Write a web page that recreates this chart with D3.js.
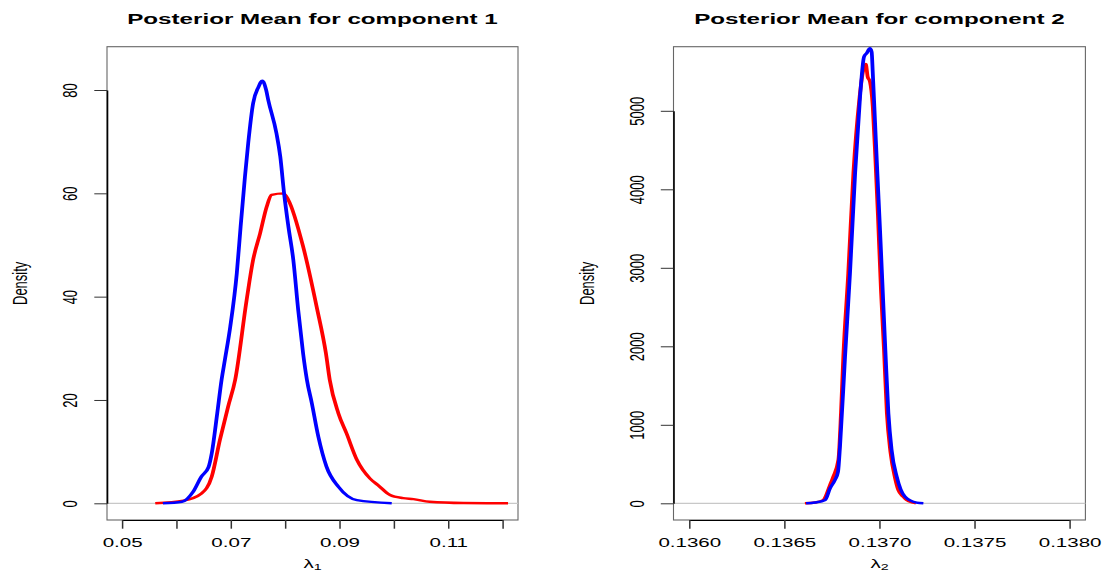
<!DOCTYPE html>
<html>
<head>
<meta charset="utf-8">
<script src="https://cdn.jsdelivr.net/npm/d3@7"></script>
<style>
body { margin: 0; background: #fff; }
text { font-family: "Liberation Sans", Arial, Helvetica, sans-serif; }
</style>
</head>
<body>
<div id="chart"></div>
<script>
// the original R output was stretched sideways, text and strokes follow that
var SX = 1.58;

// ---- component 1 (lambda_1) ----
var c1RedX  = [0.0561, 0.0613, 0.0646, 0.0665, 0.0680, 0.0695, 0.0708, 0.0729, 0.0741, 0.0754, 0.0766, 0.0775,
               0.0797, 0.0806, 0.0833, 0.0858, 0.0875, 0.0882, 0.0898, 0.0913, 0.0932, 0.0956, 0.0971, 0.0993,
               0.1017, 0.1036, 0.1066, 0.1128, 0.1210];
var c1RedY  = [0, 0.5, 1.9, 5.2, 12.3, 18.7, 23.9, 39.3, 47.1, 52.3, 57.4, 59.7,
               60.0, 58.7, 49.7, 38.0, 29.0, 23.9, 17.4, 13.5, 8.4, 4.8, 3.5, 1.6,
               1.0, 0.8, 0.3, 0.05, 0];
var c1BlueX = [0.0575, 0.0610, 0.0631, 0.0646, 0.0659, 0.0665, 0.0675, 0.0683, 0.0689, 0.0699, 0.0711, 0.0718,
               0.0726, 0.0732, 0.0741, 0.0751, 0.0758, 0.0765, 0.0769, 0.0784, 0.0791, 0.0798, 0.0806, 0.0815,
               0.0824, 0.0833, 0.0840, 0.0849, 0.0861, 0.0876, 0.0898, 0.0932, 0.0996];
var c1BlueY = [0, 0.3, 2.3, 5.2, 7.0, 9.7, 17.4, 23.9, 27.7, 34.2, 44.5, 53.5,
               63.2, 69.7, 77.4, 80.6, 81.8, 80.0, 78.0, 71.6, 67.1, 60.0, 53.5, 47.1,
               37.4, 29.0, 23.9, 19.4, 12.9, 7.1, 3.2, 0.6, 0];
var c1XTicks  = [0.05, 0.06, 0.07, 0.08, 0.09, 0.10, 0.11, 0.12];
var c1XLabels = [0.05, 0.07, 0.09, 0.11];
var c1YTicks  = [0, 20, 40, 60, 80];

// ---- component 2 (lambda_2) ----
var c2RedX  = [0.136608, 0.136661, 0.136705, 0.136740, 0.136757, 0.136784, 0.136798, 0.136810, 0.136836, 0.136863,
               0.136894, 0.136915, 0.136928, 0.136938, 0.136950, 0.136965, 0.136979, 0.136992, 0.137008, 0.137024,
               0.137039, 0.137058, 0.137082, 0.137099, 0.137125, 0.137143, 0.137178, 0.137192];
var c2RedY  = [0, 10, 42, 233, 339, 552, 1162, 1868, 2930, 4204,
               5138, 5520, 5597, 5434, 5371, 5052, 4373, 3673, 2718, 1953,
               1150, 653, 322, 169, 84, 42, 8, 0];
var c2BlueX = [0.136614, 0.136661, 0.136714, 0.136740, 0.136766, 0.136782, 0.136793, 0.136819, 0.136845, 0.136872,
               0.136898, 0.136919, 0.136933, 0.136950, 0.136959, 0.136965, 0.136977, 0.136989, 0.137003, 0.137017,
               0.137031, 0.137047, 0.137064, 0.137091, 0.137134, 0.137196, 0.137231];
var c2BlueY = [0, 10, 42, 191, 297, 399, 743, 1868, 2930, 4204,
               5180, 5689, 5732, 5796, 5750, 5478, 4841, 4204, 3482, 2717,
               1953, 1146, 679, 339, 84, 8, 0];
var c2XTicks = [0.1360, 0.1365, 0.1370, 0.1375, 0.1380];
var c2YTicks = [0, 1000, 2000, 3000, 4000, 5000];

var titles = ["Posterior Mean for component 1", "Posterior Mean for component 2"];
var xLabelSub = ["1", "2"];

var svg = d3.select("#chart").append("svg")
    .attr("width", 1103)
    .attr("height", 574);

function drawPanel(p) {
    var x = d3.scaleLinear().domain(p.xDomain).range(p.xRange),
        y = d3.scaleLinear().domain(p.yDomain).range(p.yRange);
    var b = p.box; // left, top, right, bottom
    var cx = (b[0] + b[2]) / 2;
    var g = svg.append("g");

    // box
    g.append("rect")
        .attr("x", b[0]).attr("y", b[1])
        .attr("width", b[2] - b[0]).attr("height", b[3] - b[1])
        .attr("fill", "none").attr("stroke", "#666").attr("stroke-width", 1.1);

    // zero line
    g.append("line")
        .attr("x1", b[0]).attr("x2", b[2])
        .attr("y1", y(0)).attr("y2", y(0))
        .attr("stroke", "#c8c8c8").attr("stroke-width", 1.2);

    // density curves, drawn unstretched then scaled so the strokes look the same
    var curves = g.append("g").attr("transform", "scale(" + SX + ",1)");
    var line = d3.line()
        .x(function(d) { return x(d[0]) / SX; })
        .y(function(d) { return y(d[1]); })
        .curve(d3.curveMonotoneX);
    p.series.forEach(function(s) {
        curves.append("path")
            .datum(d3.zip(s.x, s.y))
            .attr("d", line)
            .attr("fill", "none")
            .attr("stroke", s.color)
            .attr("stroke-width", 2.4)
            .attr("stroke-linejoin", "round");
    });

    // x axis
    var xa = g.append("g")
        .attr("transform", "translate(0," + b[3] + ")")
        .call(d3.axisBottom(x).tickValues(p.xTicks).tickSize(8.7).tickSizeOuter(0).tickFormat(p.xFormat));
    xa.select(".domain").attr("stroke", "#000").attr("stroke-width", 1);
    xa.selectAll(".tick line").attr("stroke", "#333").attr("stroke-width", 1.5);
    xa.selectAll(".tick text")
        .attr("y", null).attr("dy", null)
        .attr("transform", "translate(0,26.7) scale(" + SX + ",1)")
        .attr("font-size", 13).attr("fill", "#000")
        .style("font-family", "'Liberation Sans', Arial, sans-serif");

    // y axis
    var ya = g.append("g")
        .attr("transform", "translate(" + b[0] + ",0)")
        .call(d3.axisLeft(y).tickValues(p.yTicks).tickSize(12.7).tickSizeOuter(0).tickFormat(d3.format("d")));
    ya.select(".domain").attr("stroke", "#000").attr("stroke-width", 1.6);
    ya.selectAll(".tick line").attr("stroke", "#333").attr("stroke-width", 1);
    ya.selectAll(".tick text")
        .attr("x", null).attr("dy", null)
        .attr("text-anchor", "middle")
        .attr("transform", "translate(-30,0) scale(" + SX + ",1) rotate(-90)")
        .attr("font-size", 13).attr("fill", "#000")
        .style("font-family", "'Liberation Sans', Arial, sans-serif");

    // title
    g.append("text")
        .attr("transform", "translate(" + cx + ",24) scale(" + SX + ",1)")
        .attr("text-anchor", "middle")
        .attr("font-size", 15.3)
        .attr("font-weight", "bold")
        .text(p.title);

    // y label
    g.append("text")
        .attr("transform", "translate(" + (b[0] - 80) + "," + ((b[1] + b[3]) / 2) + ") scale(" + SX + ",1) rotate(-90)")
        .attr("text-anchor", "middle")
        .attr("font-size", 13)
        .text("Density");

    // x label, kept just inside the bottom edge
    var xl = g.append("text")
        .attr("transform", "translate(" + cx + ",568) scale(" + SX + ",1)")
        .attr("text-anchor", "middle")
        .attr("font-size", 13)
        .text("λ");
    xl.append("tspan").attr("font-size", 9).attr("dy", 2).text(p.sub);
}

drawPanel({
    title: titles[0], sub: xLabelSub[0],
    box: [107, 46.7, 518, 520],
    xDomain: [0.05, 0.12], xRange: [122.1, 502.6],
    yDomain: [0, 80], yRange: [503.3, 90],
    xTicks: c1XTicks, yTicks: c1YTicks,
    xFormat: function(d) { return c1XLabels.some(function(v) { return Math.abs(v - d) < 1e-9; }) ? String(d) : ""; },
    series: [
        {x: c1RedX, y: c1RedY, color: "#ff0000"},
        {x: c1BlueX, y: c1BlueY, color: "#0000ff"}
    ]
});

drawPanel({
    title: titles[1], sub: xLabelSub[1],
    box: [673.5, 46.7, 1085.4, 520],
    xDomain: [0.1360, 0.1380], xRange: [689.3, 1069.6],
    yDomain: [0, 5000], yRange: [503.3, 110.8],
    xTicks: c2XTicks, yTicks: c2YTicks,
    xFormat: d3.format(".4f"),
    series: [
        {x: c2RedX, y: c2RedY, color: "#ff0000"},
        {x: c2BlueX, y: c2BlueY, color: "#0000ff"}
    ]
});
</script>
</body>
</html>
